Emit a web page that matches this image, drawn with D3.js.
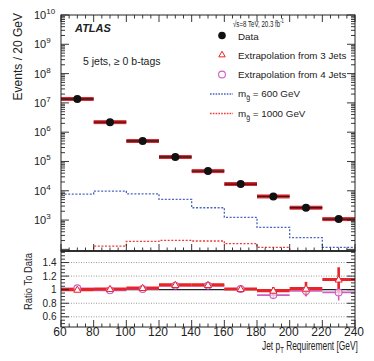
<!DOCTYPE html>
<html>
<head>
<meta charset="utf-8">
<script src="https://cdn.jsdelivr.net/npm/d3@7"></script>
<style>
  body { margin: 0; background: #fff; }
  text { font-family: "Liberation Sans", Arial, sans-serif; fill: #222; }
</style>
</head>
<body>
<div id="chart"></div>
<script>
// values
var binCenters = [70, 90, 110, 130, 150, 170, 190, 210, 230];
var dataEvents = [1.36e7, 2.2e6, 5.0e5, 1.42e5, 4.7e4, 1.7e4, 6.4e3, 2.64e3, 1.08e3];
var signal600 = [7.7e3, 9.8e3, 7.9e3, 5.1e3, 2.64e3, 1.24e3, 566, 250, 117];
var signal1000 = [50, 130, 188, 204, 193, 156, 117, 50, 50];
var ratio3 = [1.0, 1.01, 1.025, 1.07, 1.07, 1.01, 0.985, 1.015, 1.15];
var ratio3Err = [0.01, 0.01, 0.01, 0.015, 0.02, 0.03, 0.055, 0.1, 0.18];
var ratio4 = [1.02, 0.99, 1.01, 1.06, 1.06, 1.01, 0.92, 0.98, 0.96];
var ratio4Err = [0.01, 0.01, 0.015, 0.02, 0.03, 0.04, 0.06, 0.08, 0.12];
var xTicks = [60, 80, 100, 120, 140, 160, 180, 200, 220, 240];
var logDecades = [3, 4, 5, 6, 7, 8, 9, 10];
var ratioTicks = [0.6, 0.8, 1, 1.2, 1.4];
var legendLabels = ["Data", "Extrapolation from 3 Jets", "Extrapolation from 4 Jets", "600", "1000"];

var svgWidth = 374;
var svgHeight = 361;
var left = 61, right = 355, topY = 15, midY = 251, bottomY = 327;
var halfBin = 10;

var red = "#e8232a", magenta = "#cc5fc0", blue = "#4a66c0", redDot = "#f03a3a";

var svg = d3.select("#chart")
    .append("svg")
    .attr("width", svgWidth)
    .attr("height", svgHeight);

var xScale = d3.scaleLinear().domain([60, 240]).range([left, right]);
var yScale = d3.scaleLog().domain([88, 1e10]).range([midY, topY]);
var rScale = d3.scaleLinear().domain([0.45, 1.57]).range([bottomY, midY]);

svg.append("clipPath").attr("id", "clipTop")
    .append("rect").attr("x", left).attr("y", topY)
    .attr("width", right - left).attr("height", midY - topY);
svg.append("clipPath").attr("id", "clipBot")
    .append("rect").attr("x", left).attr("y", midY)
    .attr("width", right - left).attr("height", bottomY - midY);

// fits a text element to a measured width
function fitWidth(sel, w) {
    var node = sel.node();
    var len = node.getComputedTextLength();
    if (len > 0) sel.attr("transform", (sel.attr("transform") || "") + " scale(" + (w / len) + ",1)");
}

// ---------- top panel ----------
var topGroup = svg.append("g").attr("clip-path", "url(#clipTop)");

function stepPoints(vals) {
    var pts = vals.map(function(v, i) { return [binCenters[i] - halfBin, v]; });
    pts.push([binCenters[binCenters.length - 1] + halfBin, vals[vals.length - 1]]);
    return pts;
}
var stepLine = d3.line()
    .x(d => xScale(d[0]))
    .y(d => Math.min(yScale(d[1]), midY + 5))
    .curve(d3.curveStepAfter);

topGroup.append("path")
    .attr("d", stepLine(stepPoints(signal600)))
    .attr("fill", "none").attr("stroke", blue)
    .attr("stroke-width", 1.3).attr("stroke-dasharray", "2,1.6");
topGroup.append("path")
    .attr("d", stepLine(stepPoints(signal1000)))
    .attr("fill", "none").attr("stroke", redDot)
    .attr("stroke-width", 1.3).attr("stroke-dasharray", "2,1.6");

// prediction band + data bars
topGroup.selectAll(".band")
    .data(dataEvents).enter().append("rect")
    .attr("x", (d, i) => xScale(binCenters[i] - halfBin))
    .attr("width", xScale(80) - xScale(60))
    .attr("y", d => yScale(d) - 2)
    .attr("height", 4)
    .attr("fill", red);
topGroup.selectAll(".hbar")
    .data(dataEvents).enter().append("line")
    .attr("x1", (d, i) => xScale(binCenters[i] - halfBin))
    .attr("x2", (d, i) => xScale(binCenters[i] + halfBin))
    .attr("y1", d => yScale(d)).attr("y2", d => yScale(d))
    .attr("stroke", "#222").attr("stroke-width", 1.3);
topGroup.selectAll(".dot")
    .data(dataEvents).enter().append("circle")
    .attr("cx", (d, i) => xScale(binCenters[i]))
    .attr("cy", d => yScale(d))
    .attr("r", 4)
    .attr("fill", "#111");

// ---------- ratio panel ----------
var botGroup = svg.append("g").attr("clip-path", "url(#clipBot)");

botGroup.selectAll(".grid")
    .data(ratioTicks.filter(d => d !== 1)).enter().append("line")
    .attr("x1", left).attr("x2", right)
    .attr("y1", d => rScale(d)).attr("y2", d => rScale(d))
    .attr("stroke", "#999").attr("stroke-width", 1).attr("stroke-dasharray", "1,1.5");
botGroup.append("line")
    .attr("x1", left).attr("x2", right)
    .attr("y1", rScale(1)).attr("y2", rScale(1))
    .attr("stroke", "#222").attr("stroke-width", 1.2);

// extrapolation from 4 jets
botGroup.selectAll(".r4h")
    .data(ratio4).enter().append("line")
    .attr("x1", (d, i) => xScale(binCenters[i] - halfBin))
    .attr("x2", (d, i) => xScale(binCenters[i] + halfBin))
    .attr("y1", d => rScale(d)).attr("y2", d => rScale(d))
    .attr("stroke", magenta).attr("stroke-width", 1.6);
botGroup.selectAll(".r4v")
    .data(ratio4).enter().append("line")
    .attr("x1", (d, i) => xScale(binCenters[i]))
    .attr("x2", (d, i) => xScale(binCenters[i]))
    .attr("y1", (d, i) => rScale(d + ratio4Err[i]))
    .attr("y2", (d, i) => rScale(d - ratio4Err[i]))
    .attr("stroke", magenta).attr("stroke-width", 1.6);

// extrapolation from 3 jets
botGroup.selectAll(".r3h")
    .data(ratio3).enter().append("line")
    .attr("x1", (d, i) => xScale(binCenters[i] - halfBin))
    .attr("x2", (d, i) => xScale(binCenters[i] + halfBin))
    .attr("y1", d => rScale(d)).attr("y2", d => rScale(d))
    .attr("stroke", red).attr("stroke-width", 3.2);
botGroup.selectAll(".r3v")
    .data(ratio3).enter().append("line")
    .attr("x1", (d, i) => xScale(binCenters[i]))
    .attr("x2", (d, i) => xScale(binCenters[i]))
    .attr("y1", (d, i) => rScale(d + ratio3Err[i]))
    .attr("y2", (d, i) => rScale(d - ratio3Err[i]))
    .attr("stroke", red).attr("stroke-width", 2.6);

var tri = d3.symbol().type(d3.symbolTriangle).size(22);
botGroup.selectAll(".r4c")
    .data(ratio4).enter().append("circle")
    .attr("cx", (d, i) => xScale(binCenters[i]))
    .attr("cy", d => rScale(d))
    .attr("r", 3.4)
    .attr("fill", "#fff").attr("fill-opacity", 0.6)
    .attr("stroke", magenta).attr("stroke-width", 1.1);
botGroup.selectAll(".r3t")
    .data(ratio3).enter().append("path")
    .attr("d", tri)
    .attr("transform", (d, i) => `translate(${xScale(binCenters[i])}, ${rScale(d) + 0.5})`)
    .attr("fill", "#fff")
    .attr("stroke", red).attr("stroke-width", 1);

// ---------- frames and ticks ----------
var axes = svg.append("g").attr("stroke", "#222").attr("fill", "none");
axes.append("rect").attr("x", left).attr("y", topY)
    .attr("width", right - left).attr("height", midY - topY).attr("stroke-width", 1);
axes.append("rect").attr("x", left).attr("y", midY)
    .attr("width", right - left).attr("height", bottomY - midY).attr("stroke-width", 1);
axes.append("line").attr("x1", left).attr("x2", right)
    .attr("y1", midY).attr("y2", midY).attr("stroke-width", 1.6);

var xMinor = d3.range(60, 241, 5);
function xTickLines(y0, dir) {
    axes.selectAll(null).data(xMinor).enter().append("line")
        .attr("x1", d => xScale(d)).attr("x2", d => xScale(d))
        .attr("y1", y0)
        .attr("y2", d => y0 + dir * (d % 20 === 0 ? 7 : 3.5))
        .attr("stroke-width", 0.9);
}
xTickLines(topY, 1);
xTickLines(midY, -1);
xTickLines(bottomY, -1);

var logTicks = [];
logDecades.forEach(function(e) {
    for (var k = 1; k < 10; k++) {
        var v = k * Math.pow(10, e - 1);
        if (v >= 88 && v <= 1e10) logTicks.push(v);
    }
});
logTicks.push(1e10);
function isDecade(v) { return Math.abs(Math.log10(v) - Math.round(Math.log10(v))) < 1e-6; }
[[left, 1], [right, -1]].forEach(function(s) {
    axes.selectAll(null).data(logTicks).enter().append("line")
        .attr("y1", d => yScale(d)).attr("y2", d => yScale(d))
        .attr("x1", s[0])
        .attr("x2", d => s[0] + s[1] * (isDecade(d) ? 8 : 4))
        .attr("stroke-width", 0.9);
});

var rMinor = d3.range(0.5, 1.56, 0.05);
[[left, 1], [right, -1]].forEach(function(s) {
    axes.selectAll(null).data(rMinor).enter().append("line")
        .attr("y1", d => rScale(d)).attr("y2", d => rScale(d))
        .attr("x1", s[0])
        .attr("x2", d => s[0] + s[1] * (Math.abs(Math.round(d * 5) - d * 5) < 1e-6 ? 8 : 4))
        .attr("stroke-width", 0.9);
});

// ---------- tick labels ----------
svg.selectAll(".xlab")
    .data(xTicks).enter().append("text")
    .attr("x", d => xScale(d) - 1)
    .attr("y", 336)
    .attr("text-anchor", "middle")
    .attr("font-size", 12)
    .text(d => d);

var yLab = svg.selectAll(".ylab")
    .data(logDecades).enter().append("text")
    .attr("x", 34)
    .attr("y", d => yScale(Math.pow(10, d)) + 4)
    .attr("font-size", 11);
yLab.append("tspan").text("10");
yLab.append("tspan").attr("font-size", 8).attr("dy", -5).text(d => d);

svg.selectAll(".rlab")
    .data(ratioTicks).enter().append("text")
    .attr("x", 56.5)
    .attr("y", d => rScale(d) + 3.5)
    .attr("text-anchor", "end")
    .attr("font-size", 10)
    .text(d => d);

// ---------- titles ----------
svg.append("text")
    .attr("transform", "translate(21.5, 13) rotate(-90)")
    .attr("text-anchor", "end")
    .attr("font-size", 12)
    .text("Events / 20 GeV");

var rTitle = svg.append("text")
    .attr("transform", "translate(32, 310) rotate(-90)")
    .attr("font-size", 11)
    .text("Ratio To Data");
fitWidth(rTitle, 57);

var xTitle = svg.append("text")
    .attr("transform", "translate(262, 350)")
    .attr("font-size", 12);
xTitle.append("tspan").text("Jet p");
xTitle.append("tspan").attr("font-size", 8.5).attr("dy", 3).text("T");
xTitle.append("tspan").attr("dy", -3).text(" Requirement [GeV]");
fitWidth(xTitle, 96);

svg.append("text")
    .attr("x", 75).attr("y", 31.5)
    .attr("font-size", 11)
    .attr("font-weight", "bold").attr("font-style", "italic")
    .text("ATLAS");

svg.append("text")
    .attr("x", 83).attr("y", 65)
    .attr("font-size", 10.5)
    .text("5 jets, \u2265 0 b-tags");

var lumi = svg.append("text")
    .attr("transform", "translate(233, 27)")
    .attr("font-size", 9.5);
lumi.append("tspan").text("\u221As=8 TeV, 20.3 fb");
lumi.append("tspan").attr("font-size", 6.5).attr("dy", -4).text("-1");
fitWidth(lumi, 51);

// ---------- legend ----------
var legY = [39.5, 58.5, 78, 97, 116.5];
var legX = 238, markX = 222;
var legend = svg.append("g");
legend.append("circle").attr("cx", markX).attr("cy", legY[0] - 4).attr("r", 3.8).attr("fill", "#111");
legend.append("path").attr("d", d3.symbol().type(d3.symbolTriangle).size(18))
    .attr("transform", `translate(${markX}, ${legY[1] - 3.5})`)
    .attr("fill", "#fff").attr("stroke", red).attr("stroke-width", 1);
legend.append("circle").attr("cx", markX).attr("cy", legY[2] - 3.5).attr("r", 3.4)
    .attr("fill", "none").attr("stroke", magenta).attr("stroke-width", 1.1);
[[legY[3], blue], [legY[4], redDot]].forEach(function(p) {
    legend.append("line").attr("x1", 210).attr("x2", 233)
        .attr("y1", p[0] - 3).attr("y2", p[0] - 3)
        .attr("stroke", p[1]).attr("stroke-width", 1.4).attr("stroke-dasharray", "1.6,1.2");
});
legend.selectAll(".lt")
    .data(legendLabels.slice(0, 3)).enter().append("text")
    .attr("x", legX).attr("y", (d, i) => legY[i])
    .attr("font-size", 9.8)
    .text(d => d);
legendLabels.slice(3).forEach(function(m, i) {
    var t = legend.append("text").attr("x", legX).attr("y", legY[3 + i]).attr("font-size", 9.8);
    t.append("tspan").text("m");
    t.append("tspan").attr("font-size", 7).attr("dy", 3).text("g\u0303");
    t.append("tspan").attr("dy", -3).text(" = " + m + " GeV");
});
</script>
</body>
</html>
